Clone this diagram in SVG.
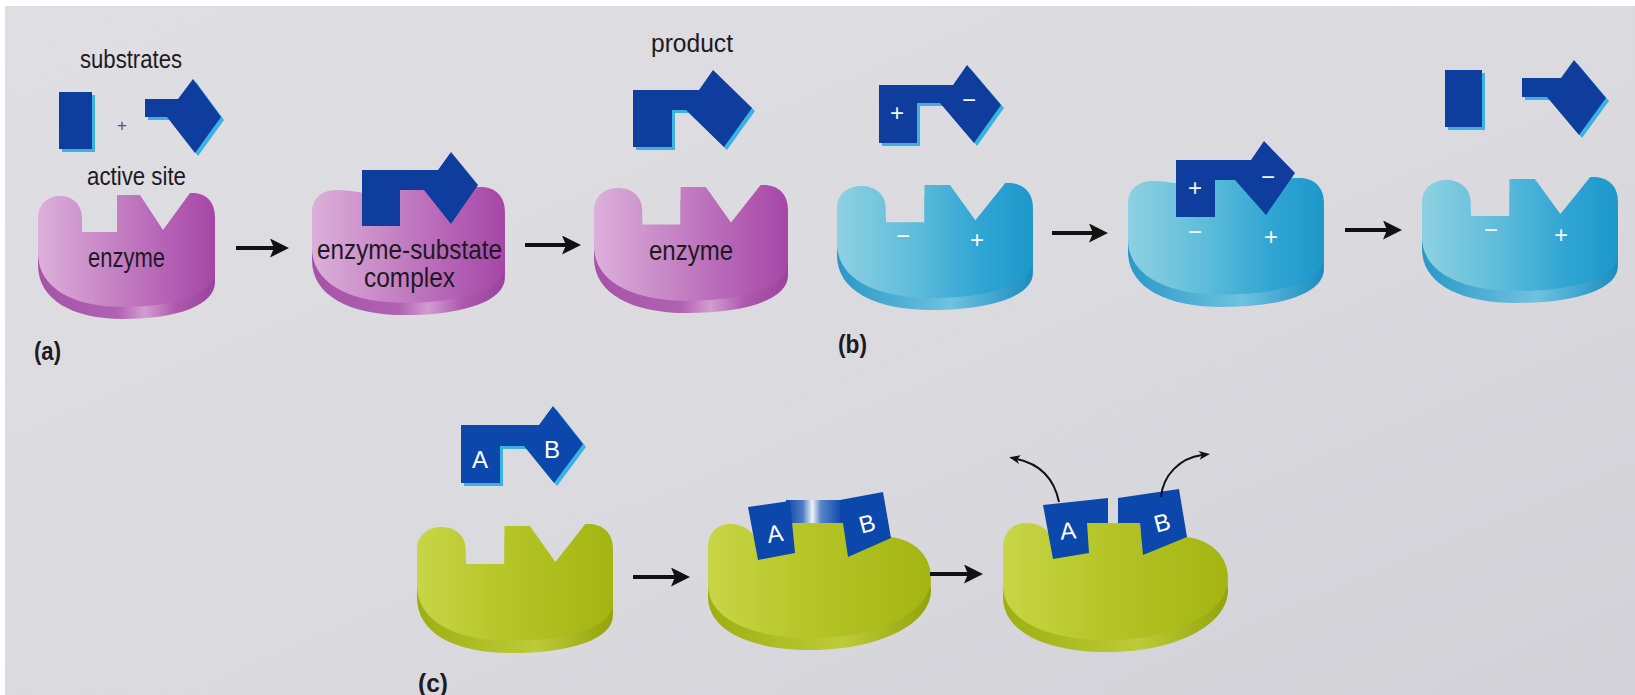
<svg xmlns="http://www.w3.org/2000/svg" xmlns:xlink="http://www.w3.org/1999/xlink" width="1635" height="695" viewBox="0 0 1635 695">
  <style>
    .lbl { font-family: "Liberation Sans", Arial, sans-serif; fill: #1d1a22; }
    .tag { font-family: "Liberation Sans", Arial, sans-serif; font-weight: bold; fill: #1d1a22; }
    .sign { font-family: "Liberation Sans", Arial, sans-serif; fill: #f2f8fb; text-anchor: middle; }
    .ab { font-family: "Liberation Sans", Arial, sans-serif; fill: #ffffff; text-anchor: middle; }
    .blue { fill: #0e3d9e; }
    .blueC { fill: #0c47ab; }
    .edge { fill: #3ab2e4; }
    .arrow { stroke: #111; stroke-width: 4; fill: none; }
    .curve { stroke: #111; stroke-width: 2; fill: none; }
  </style>
  <defs>
    <linearGradient id="paper" x1="0" y1="0" x2="1" y2="1">
      <stop offset="0" stop-color="#dfdee3"/>
      <stop offset="0.6" stop-color="#dad9de"/>
      <stop offset="1" stop-color="#d2d1d7"/>
    </linearGradient>
    <linearGradient id="pinkTop" x1="0" y1="0" x2="1" y2="0">
      <stop offset="0" stop-color="#dcb0da"/>
      <stop offset="0.35" stop-color="#c98ac8"/>
      <stop offset="0.7" stop-color="#b664b6"/>
      <stop offset="1" stop-color="#a646a7"/>
    </linearGradient>
    <linearGradient id="pinkSide" x1="0" y1="0" x2="1" y2="0">
      <stop offset="0" stop-color="#a553a8"/>
      <stop offset="0.45" stop-color="#b062b1"/>
      <stop offset="0.6" stop-color="#d39cd2"/>
      <stop offset="0.78" stop-color="#ad58ad"/>
      <stop offset="1" stop-color="#9a439b"/>
    </linearGradient>
    <linearGradient id="cyanTop" x1="0" y1="0" x2="1" y2="0">
      <stop offset="0" stop-color="#8ed1e2"/>
      <stop offset="0.4" stop-color="#5dbcda"/>
      <stop offset="0.75" stop-color="#2ea4d3"/>
      <stop offset="1" stop-color="#1d98ca"/>
    </linearGradient>
    <linearGradient id="cyanSide" x1="0" y1="0" x2="1" y2="0">
      <stop offset="0" stop-color="#2a98c7"/>
      <stop offset="0.58" stop-color="#6fc2e0"/>
      <stop offset="1" stop-color="#1a8cc0"/>
    </linearGradient>
    <linearGradient id="greenTop" x1="0" y1="0" x2="1" y2="0">
      <stop offset="0" stop-color="#c8d547"/>
      <stop offset="0.4" stop-color="#b7c72a"/>
      <stop offset="1" stop-color="#a4b412"/>
    </linearGradient>
    <linearGradient id="greenSide" x1="0" y1="0" x2="1" y2="0">
      <stop offset="0" stop-color="#9caf12"/>
      <stop offset="0.6" stop-color="#bccb38"/>
      <stop offset="1" stop-color="#93a30b"/>
    </linearGradient>
    <linearGradient id="bridge" gradientUnits="userSpaceOnUse" x1="786" y1="0" x2="842" y2="0">
      <stop offset="0" stop-color="#0c47ab"/>
      <stop offset="0.3" stop-color="#4f7dc3"/>
      <stop offset="0.47" stop-color="#eef2fa"/>
      <stop offset="0.62" stop-color="#5a86c8"/>
      <stop offset="1" stop-color="#0c47ab"/>
    </linearGradient>

    <!-- enzyme outline with the active-site pocket, and a solid one used under bound pieces -->
    <path id="enzTop" d="M0,25 C0,11 10,3 22,3 C34,3 44,11 44,25 L44,39 L79,39 L79,2 L102,2 L125,37 L152,0 L155,0 C168,0 177,9 177,24 L177,77 C177,100 140,114 85,114 C35,114 0,95 0,60 Z"/>
    <path id="enzFull" d="M0,25 C0,11 10,3 22,3 C36,3 44,6 50,6 L50,2 L155,0 C168,0 177,9 177,24 L177,77 C177,100 140,114 85,114 C35,114 0,95 0,60 Z"/>

    <!-- substrate / product pieces -->
    <polygon id="aRect" points="59,92 92,92 92,149 59,149"/>
    <polygon id="aArrow" points="145,99 178,99 193,79 221,117 195,153 167,117 145,117"/>
    <polygon id="prod" points="633,90 699,90 713,70 752,108 724,147 686,110 672,110 672,147 633,147"/>
    <polygon id="bProd" points="879,85 953,85 967,65 1001,105 974,143 940,103 917,103 917,143 879,143"/>
    <polygon id="bRect" points="1445,70 1482,70 1482,127 1445,127"/>
    <polygon id="bArrow" points="1522,78 1561,78 1574,60 1606,98 1579,135 1547,97 1522,97"/>
    <polygon id="cAB" points="461,425 539,425 553,406 583,444 554,483 524,446 500,446 500,483 461,483"/>

    <marker id="head" markerUnits="userSpaceOnUse" markerWidth="21" markerHeight="20" refX="4" refY="9.5" orient="auto">
      <path d="M0,0 L19,9.5 L0,19 L4,9.5 Z" fill="#111"/>
    </marker>
    <marker id="headSmall" markerUnits="userSpaceOnUse" markerWidth="13" markerHeight="10" refX="3" refY="4.5" orient="auto">
      <path d="M0,0 L11,4.5 L0,9 L3,4.5 Z" fill="#111"/>
    </marker>
  </defs>

  <!-- page -->
  <rect width="1635" height="695" fill="url(#paper)"/>
  <rect width="1635" height="6" fill="#ffffff"/>
  <rect width="5" height="695" fill="#ffffff"/>

  <!-- (a) lock and key -->
  <g id="a-substrates">
    <text class="lbl" x="80" y="68" font-size="25" textLength="102" lengthAdjust="spacingAndGlyphs">substrates</text>
    <use href="#aRect" class="edge" transform="translate(3,3)"/>
    <use href="#aRect" class="blue"/>
    <text x="122" y="131" font-family="Liberation Sans, Arial, sans-serif" font-size="17" fill="#55535c" text-anchor="middle">+</text>
    <use href="#aArrow" class="edge" transform="translate(3,3)"/>
    <use href="#aArrow" class="blue"/>
  </g>
  <g id="a-enzyme">
    <text class="lbl" x="87" y="185" font-size="25" textLength="99" lengthAdjust="spacingAndGlyphs">active site</text>
    <use href="#enzTop" fill="url(#pinkSide)" transform="translate(38,205) scale(1,1)"/>
    <use href="#enzTop" fill="url(#pinkTop)" transform="translate(38,193) scale(1,1)"/>
    <text class="lbl" x="88" y="267" font-size="27" textLength="77" lengthAdjust="spacingAndGlyphs">enzyme</text>
  </g>
  <g id="a-complex">
    <use href="#enzFull" fill="url(#pinkSide)" transform="translate(312,199.2) scale(1.09,1.016)"/>
    <use href="#enzFull" fill="url(#pinkTop)" transform="translate(312,187) scale(1.09,1.016)"/>
    <polygon class="blue" points="362,170 438,170 451,152 478,185 451,224 424,190 400,190 400,226 362,226"/>
    <text class="lbl" x="317" y="259" font-size="27" textLength="185" lengthAdjust="spacingAndGlyphs">enzyme-substate</text>
    <text class="lbl" x="364" y="287" font-size="27" textLength="91" lengthAdjust="spacingAndGlyphs">complex</text>
  </g>
  <g id="a-product">
    <text class="lbl" x="651" y="52" font-size="25" textLength="82" lengthAdjust="spacingAndGlyphs">product</text>
    <use href="#prod" class="edge" transform="translate(3,3)"/>
    <use href="#prod" class="blue"/>
  </g>
  <g id="a-enzyme-free">
    <use href="#enzTop" fill="url(#pinkSide)" transform="translate(594,197.2) scale(1.096,1.016)"/>
    <use href="#enzTop" fill="url(#pinkTop)" transform="translate(594,185) scale(1.096,1.016)"/>
    <text class="lbl" x="649" y="260" font-size="27" textLength="84" lengthAdjust="spacingAndGlyphs">enzyme</text>
  </g>
  <text id="label-a" class="tag" x="34" y="360" font-size="26" textLength="27" lengthAdjust="spacingAndGlyphs">(a)</text>

  <!-- (b) charge attraction -->
  <g id="b-substrate">
    <use href="#bProd" class="edge" transform="translate(3,3)"/>
    <use href="#bProd" class="blue"/>
    <text class="sign" x="897" y="121" font-size="24">+</text>
    <text class="sign" x="969" y="108" font-size="24">−</text>
  </g>
  <g id="b-enzyme">
    <use href="#enzTop" fill="url(#cyanSide)" transform="translate(837,195.1) scale(1.107,1.008)"/>
    <use href="#enzTop" fill="url(#cyanTop)" transform="translate(837,183) scale(1.107,1.008)"/>
    <text class="sign" x="903" y="244" font-size="24">−</text>
    <text class="sign" x="977" y="248" font-size="24">+</text>
  </g>
  <g id="b-complex">
    <use href="#enzFull" fill="url(#cyanSide)" transform="translate(1128,190.3) scale(1.107,1.024)"/>
    <use href="#enzFull" fill="url(#cyanTop)" transform="translate(1128,178) scale(1.107,1.024)"/>
    <polygon class="blue" points="1176,160 1251,160 1264,141 1295,173 1266,215 1235,180 1215,180 1215,217 1176,217"/>
    <text class="sign" x="1195" y="196" font-size="24">+</text>
    <text class="sign" x="1268" y="185" font-size="24">−</text>
    <text class="sign" x="1195" y="240" font-size="24">−</text>
    <text class="sign" x="1271" y="245" font-size="24">+</text>
  </g>
  <g id="b-products">
    <use href="#bRect" class="edge" transform="translate(3,3)"/>
    <use href="#bRect" class="blue"/>
    <use href="#bArrow" class="edge" transform="translate(3,3)"/>
    <use href="#bArrow" class="blue"/>
  </g>
  <g id="b-enzyme-free">
    <use href="#enzTop" fill="url(#cyanSide)" transform="translate(1422,189) scale(1.107,1)"/>
    <use href="#enzTop" fill="url(#cyanTop)" transform="translate(1422,177) scale(1.107,1)"/>
    <text class="sign" x="1491" y="238" font-size="24">−</text>
    <text class="sign" x="1561" y="243" font-size="24">+</text>
  </g>
  <text id="label-b" class="tag" x="838" y="353" font-size="26" textLength="29" lengthAdjust="spacingAndGlyphs">(b)</text>

  <!-- (c) strained bond -->
  <g id="c-substrate">
    <use href="#cAB" class="edge" transform="translate(3,3)"/>
    <use href="#cAB" class="blueC"/>
    <text class="ab" x="480" y="468" font-size="24">A</text>
    <text class="ab" x="552" y="458" font-size="24">B</text>
  </g>
  <g id="c-enzyme">
    <use href="#enzTop" fill="url(#greenSide)" transform="translate(417,536.3) scale(1.107,1.024)"/>
    <use href="#enzTop" fill="url(#greenTop)" transform="translate(417,524) scale(1.107,1.024)"/>
  </g>
  <g id="c-complex">
    <path fill="url(#greenSide)" transform="translate(0,12)" d="M708,548 C708,533 717,524 730,524 C742,524 752,530 756,540 L790,545 L790,523 L845,523 L845,530 L891,537 C915,540 931,556 931,578 C931,612 880,638 810,638 C750,638 708,618 708,585 Z"/>
    <path fill="url(#greenTop)" d="M708,548 C708,533 717,524 730,524 C742,524 752,530 756,540 L790,545 L790,523 L845,523 L845,530 L891,537 C915,540 931,556 931,578 C931,612 880,638 810,638 C750,638 708,618 708,585 Z"/>
    <rect x="786" y="500" width="56" height="23" fill="url(#bridge)"/>
    <polygon class="blueC" points="748,507 790,501 795,553 758,560"/>
    <polygon class="blueC" points="840,500 883,492 891,538 848,557 843,523 840,523"/>
    <text class="ab" x="775" y="542" font-size="24" transform="rotate(-8 775 533)">A</text>
    <text class="ab" x="867" y="532" font-size="24" transform="rotate(-15 867 523)">B</text>
  </g>
  <g id="c-split">
    <path fill="url(#greenSide)" transform="translate(0,12)" d="M1003,548 C1003,532 1013,523 1026,523 C1038,523 1046,528 1050,535 L1087,540 L1087,523 L1140,523 L1140,530 L1187,537 C1211,540 1228,556 1228,578 C1228,612 1178,640 1108,640 C1046,640 1003,620 1003,585 Z"/>
    <path fill="url(#greenTop)" d="M1003,548 C1003,532 1013,523 1026,523 C1038,523 1046,528 1050,535 L1087,540 L1087,523 L1140,523 L1140,530 L1187,537 C1211,540 1228,556 1228,578 C1228,612 1178,640 1108,640 C1046,640 1003,620 1003,585 Z"/>
    <polygon class="blueC" points="1043,505 1108,498 1108,523 1087,523 1089,553 1053,559"/>
    <polygon class="blueC" points="1118,498 1179,489 1187,537 1143,555 1140,523 1118,523"/>
    <text class="ab" x="1068" y="539" font-size="24" transform="rotate(-5 1068 530)">A</text>
    <text class="ab" x="1162" y="531" font-size="24" transform="rotate(-15 1162 522)">B</text>
  </g>
  <text id="label-c" class="tag" x="418" y="692" font-size="26" textLength="30" lengthAdjust="spacingAndGlyphs">(c)</text>

  <!-- reaction arrows -->
  <g id="connectors">
    <line class="arrow" x1="236" y1="248" x2="274" y2="248" marker-end="url(#head)"/>
    <line class="arrow" x1="525" y1="245" x2="566" y2="245" marker-end="url(#head)"/>
    <line class="arrow" x1="1052" y1="233" x2="1093" y2="233" marker-end="url(#head)"/>
    <line class="arrow" x1="1345" y1="230" x2="1387" y2="230" marker-end="url(#head)"/>
    <line class="arrow" x1="633" y1="577" x2="675" y2="577" marker-end="url(#head)"/>
    <line class="arrow" x1="930" y1="574" x2="968" y2="574" marker-end="url(#head)"/>
    <path class="curve" d="M1059,502 C1054,478 1040,464 1017,459" marker-end="url(#headSmall)"/>
    <path class="curve" d="M1161,497 C1163,475 1180,458 1202,455" marker-end="url(#headSmall)"/>
  </g>
</svg>
